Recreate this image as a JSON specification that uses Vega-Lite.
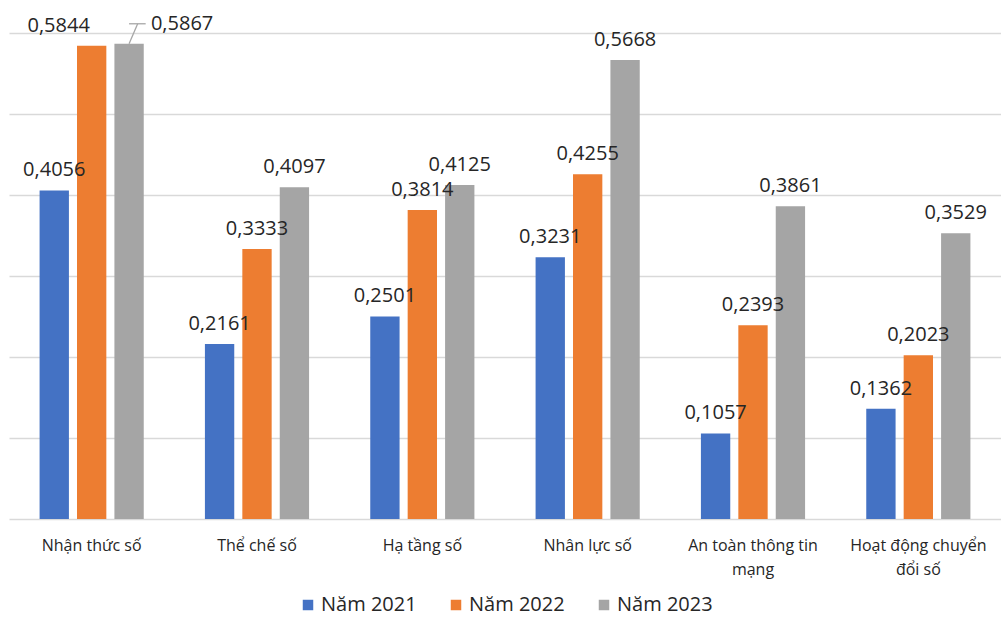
{
  "$schema": "https://vega.github.io/schema/vega-lite/v6.json",
  "width": 992,
  "height": 486,
  "autosize": {"type": "none"},
  "padding": {"left": 9, "top": 33, "right": 0, "bottom": 100},
  "background": "white",
  "config": {
    "view": {"stroke": null},
    "font": "Open Sans",
    "locale": {"number": {"decimal": ",", "thousands": ".", "grouping": [3], "currency": ["", " đ"]}},
    "legend": {"layout": {"bottom": {"anchor": "middle"}}}
  },
  "data": {
    "values": [
      {"cat": "Nhận thức số", "year": "Năm 2021", "value": 0.4056},
      {"cat": "Nhận thức số", "year": "Năm 2022", "value": 0.5844},
      {"cat": "Nhận thức số", "year": "Năm 2023", "value": 0.5867},
      {"cat": "Thể chế số", "year": "Năm 2021", "value": 0.2161},
      {"cat": "Thể chế số", "year": "Năm 2022", "value": 0.3333},
      {"cat": "Thể chế số", "year": "Năm 2023", "value": 0.4097},
      {"cat": "Hạ tầng số", "year": "Năm 2021", "value": 0.2501},
      {"cat": "Hạ tầng số", "year": "Năm 2022", "value": 0.3814},
      {"cat": "Hạ tầng số", "year": "Năm 2023", "value": 0.4125},
      {"cat": "Nhân lực số", "year": "Năm 2021", "value": 0.3231},
      {"cat": "Nhân lực số", "year": "Năm 2022", "value": 0.4255},
      {"cat": "Nhân lực số", "year": "Năm 2023", "value": 0.5668},
      {"cat": "An toàn thông tin mạng", "year": "Năm 2021", "value": 0.1057},
      {"cat": "An toàn thông tin mạng", "year": "Năm 2022", "value": 0.2393},
      {"cat": "An toàn thông tin mạng", "year": "Năm 2023", "value": 0.3861},
      {"cat": "Hoạt động chuyển đổi số", "year": "Năm 2021", "value": 0.1362},
      {"cat": "Hoạt động chuyển đổi số", "year": "Năm 2022", "value": 0.2023},
      {"cat": "Hoạt động chuyển đổi số", "year": "Năm 2023", "value": 0.3529}
    ]
  },
  "encoding": {
    "x": {
      "field": "cat",
      "type": "nominal",
      "sort": null,
      "scale": {"paddingInner": 0.37, "paddingOuter": 0.185},
      "axis": {
        "title": null,
        "labelAngle": 0,
        "labelFontSize": 16,
        "labelColor": "#262626",
        "labelPadding": 18,
        "labelLineHeight": 24,
        "labelLimit": 0,
        "domain": false,
        "ticks": false,
        "labelExpr": "datum.label == 'An toàn thông tin mạng' ? ['An toàn thông tin', 'mạng'] : datum.label == 'Hoạt động chuyển đổi số' ? ['Hoạt động chuyển', 'đổi số'] : datum.label"
      }
    },
    "xOffset": {
      "field": "year",
      "type": "nominal",
      "scale": {"paddingInner": 0.216, "paddingOuter": 0}
    },
    "y": {
      "field": "value",
      "type": "quantitative",
      "scale": {"domain": [0, 0.6], "nice": false},
      "axis": {
        "title": null,
        "labels": false,
        "ticks": false,
        "domain": false,
        "values": [0, 0.1, 0.2, 0.3, 0.4, 0.5, 0.6],
        "grid": true,
        "gridColor": "#d9d9d9",
        "gridWidth": 1.5
      }
    }
  },
  "layer": [
    {
      "mark": {"type": "bar"},
      "encoding": {
        "color": {
          "field": "year",
          "type": "nominal",
          "scale": {"range": ["#4472c4", "#ed7d31", "#a5a5a5"]},
          "legend": {
            "title": null,
            "orient": "bottom",
            "direction": "horizontal",
            "symbolType": "square",
            "symbolSize": 110,
            "symbolStrokeWidth": 0,
            "labelFontSize": 20,
            "labelColor": "#262626",
            "labelOffset": 3,
            "columnPadding": 29,
            "offset": 18
          }
        }
      }
    },
    {
      "transform": [{"filter": "!(datum.cat == 'Nhận thức số' && datum.year != 'Năm 2021')"}],
      "mark": {"type": "text", "fontSize": 20, "color": "#262626", "dy": -14, "baseline": "alphabetic"},
      "encoding": {"text": {"field": "value", "type": "quantitative", "format": ".4f"}}
    },
    {
      "transform": [{"filter": "datum.cat == 'Nhận thức số' && datum.year == 'Năm 2022'"}],
      "mark": {"type": "text", "fontSize": 20, "color": "#262626", "dy": -14, "dx": -33, "baseline": "alphabetic"},
      "encoding": {"text": {"field": "value", "type": "quantitative", "format": ".4f"}}
    },
    {
      "transform": [{"filter": "datum.cat == 'Nhận thức số' && datum.year == 'Năm 2023'"}],
      "mark": {"type": "text", "fontSize": 20, "color": "#262626", "dy": -14, "dx": 53, "baseline": "alphabetic"},
      "encoding": {"text": {"field": "value", "type": "quantitative", "format": ".4f"}}
    },
    {
      "transform": [{"filter": "datum.cat == 'Nhận thức số' && datum.year == 'Năm 2023'"}],
      "mark": {"type": "rule", "color": "#a6a6a6", "strokeWidth": 1.3, "xOffset": 1, "x2Offset": 46, "y2Offset": -20},
      "encoding": {
        "x2": {"field": "cat"},
        "y2": {"field": "value"}
      }
    },
    {
      "transform": [{"filter": "datum.cat == 'Nhận thức số' && datum.year == 'Năm 2023'"}],
      "mark": {"type": "rule", "color": "#a6a6a6", "strokeWidth": 1.3, "xOffset": 8.5, "x2Offset": 54, "yOffset": -20, "y2Offset": -20},
      "encoding": {
        "x2": {"field": "cat"},
        "y2": {"field": "value"}
      }
    }
  ]
}
